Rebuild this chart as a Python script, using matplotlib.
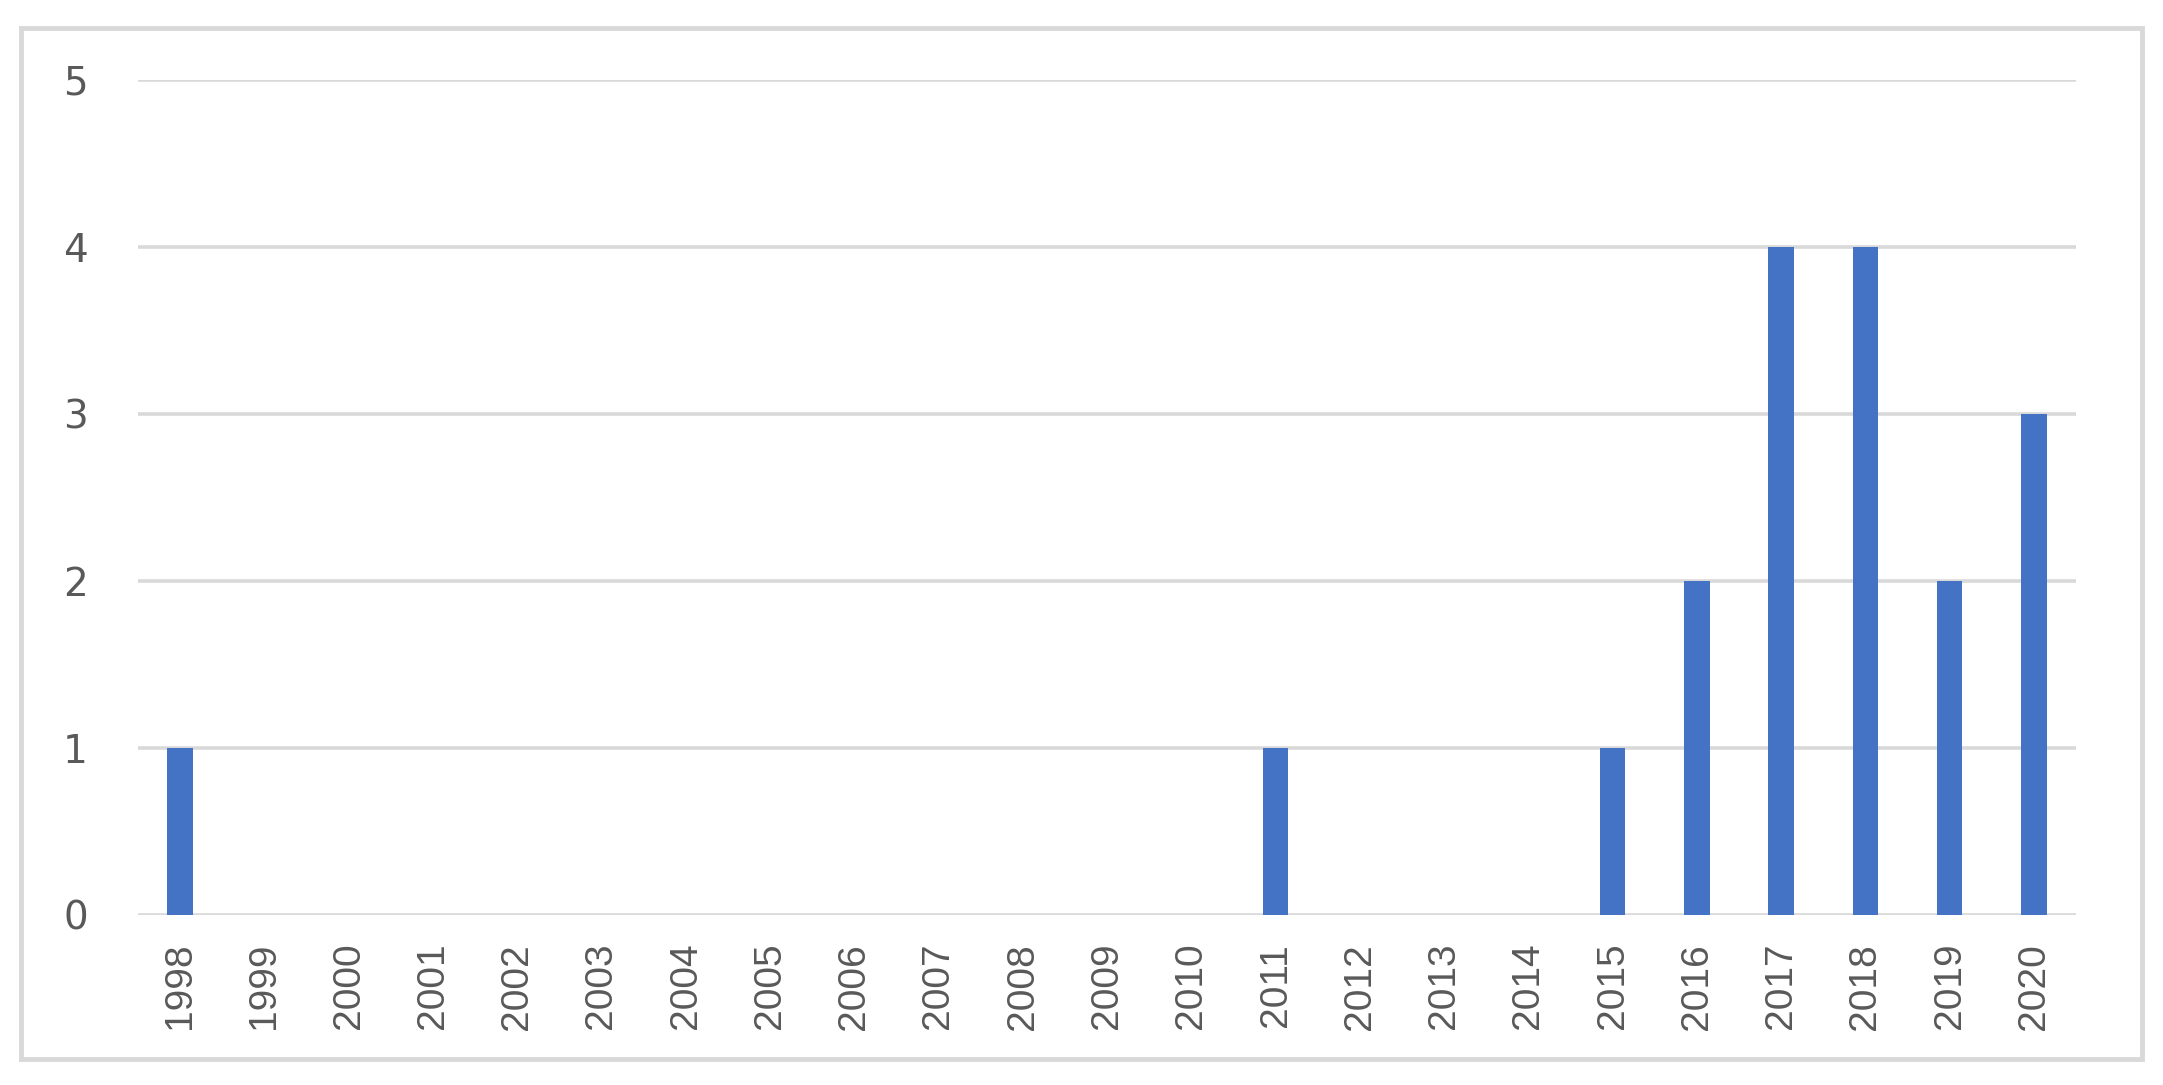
import matplotlib
matplotlib.use("Agg")
import matplotlib.pyplot as plt
from matplotlib.patches import Rectangle

# data
years = [str(y) for y in range(1998, 2021)]
counts = [1, 0, 0, 0, 0, 0, 0, 0, 0, 0, 0, 0, 0, 1, 0, 0, 0, 1, 2, 4, 4, 2, 3]
yticks = [0, 1, 2, 3, 4, 5]

bar_color = "#4472C4"
grid_color = "#D9D9D9"
text_color = "#595959"

fig = plt.figure(figsize=(21.63, 10.85), dpi=100)
fig.patch.set_facecolor("white")

# outer chart frame
fig.patches.append(Rectangle((0.0097, 0.024), 0.9806, 0.9502, transform=fig.transFigure,
                             fill=False, edgecolor=grid_color, linewidth=3.5))

ax = fig.add_axes([0.0638, 0.1567, 0.896, 0.7696])
x = list(range(len(years)))
ax.bar(x, counts, width=0.3, color=bar_color, zorder=3)

ax.set_xlim(-0.5, len(years) - 0.5)
ax.set_ylim(0, 5)
ax.set_yticks(yticks)
ax.yaxis.grid(True, color=grid_color, linewidth=2.6, zorder=0)
ax.set_axisbelow(True)
for s in ax.spines.values():
    s.set_visible(False)

ax.set_xticks(x)
ax.set_xticklabels(years, rotation=90, fontsize=28, color=text_color,
                   family=["DejaVu Sans Condensed", "Liberation Sans Narrow", "Liberation Sans"])
ax.tick_params(axis="x", length=0, pad=20)
ax.tick_params(axis="y", length=0, pad=36, labelsize=28, labelcolor=text_color)

fig.savefig("out.png", dpi=100, facecolor="white")
